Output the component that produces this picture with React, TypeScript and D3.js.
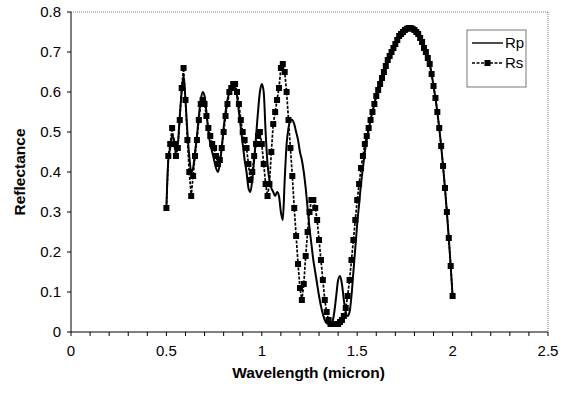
import React from 'react';
import * as d3 from 'd3';

// wavelength grid (micron), one sample every 0.01
const wavelengths: number[] = d3.range(0, 151).map(i => +(0.5 + i * 0.01).toFixed(2));

const rsValues: number[] = [
  0.31, 0.44, 0.47, 0.51, 0.47, 0.44, 0.46, 0.53, 0.61, 0.66,
  0.58, 0.48, 0.40, 0.34, 0.39, 0.44, 0.48, 0.53, 0.57, 0.58,
  0.57, 0.54, 0.51, 0.49, 0.47, 0.46, 0.44, 0.42, 0.43, 0.46,
  0.50, 0.54, 0.57, 0.60, 0.61, 0.62, 0.62, 0.60, 0.57, 0.53,
  0.50, 0.48, 0.46, 0.42, 0.38, 0.40, 0.44, 0.47, 0.49, 0.50,
  0.47, 0.42, 0.37, 0.34, 0.37, 0.45, 0.52, 0.55, 0.58, 0.61,
  0.66, 0.67, 0.65, 0.60, 0.53, 0.46, 0.39, 0.31, 0.24, 0.17,
  0.11, 0.08, 0.12, 0.19, 0.25, 0.30, 0.33, 0.33, 0.31, 0.28,
  0.23, 0.18, 0.13, 0.08, 0.05, 0.03, 0.02, 0.02, 0.02, 0.02,
  0.02, 0.025, 0.03, 0.04, 0.06, 0.09, 0.13, 0.18, 0.23, 0.28,
  0.33, 0.37, 0.41, 0.44, 0.47, 0.49, 0.51, 0.53, 0.55, 0.57,
  0.59, 0.605, 0.62, 0.635, 0.65, 0.665, 0.68, 0.69, 0.70, 0.71,
  0.72, 0.73, 0.74, 0.745, 0.75, 0.755, 0.758, 0.76, 0.76, 0.758,
  0.755, 0.75, 0.745, 0.735, 0.725, 0.71, 0.70, 0.685, 0.67, 0.645,
  0.615, 0.585, 0.55, 0.51, 0.465, 0.415, 0.36, 0.30, 0.235, 0.165,
  0.09,
];

const rpValues: number[] = [
  0.31, 0.43, 0.46, 0.49, 0.48, 0.45, 0.47, 0.54, 0.60, 0.64,
  0.58, 0.50, 0.44, 0.40, 0.41, 0.45, 0.49, 0.54, 0.58, 0.60,
  0.59, 0.55, 0.50, 0.47, 0.45, 0.43, 0.41, 0.40, 0.42, 0.46,
  0.51, 0.55, 0.58, 0.60, 0.61, 0.62, 0.61, 0.59, 0.55, 0.51,
  0.47, 0.43, 0.40, 0.36, 0.35, 0.38, 0.43, 0.49, 0.55, 0.60,
  0.62, 0.60, 0.50, 0.42, 0.38, 0.36, 0.35, 0.34, 0.35, 0.34,
  0.30, 0.28, 0.38, 0.47, 0.51, 0.53, 0.53, 0.52, 0.50, 0.48,
  0.45, 0.43, 0.40, 0.36, 0.31, 0.26, 0.22, 0.18, 0.15, 0.12,
  0.09, 0.065, 0.045, 0.03, 0.022, 0.02, 0.02, 0.025, 0.05, 0.09,
  0.13, 0.14, 0.12, 0.08, 0.05, 0.04, 0.05, 0.09, 0.15, 0.21,
  0.27, 0.32, 0.37, 0.41, 0.45, 0.48, 0.505, 0.53, 0.55, 0.57,
  0.59, 0.605, 0.62, 0.635, 0.65, 0.665, 0.68, 0.69, 0.70, 0.71,
  0.72, 0.73, 0.74, 0.745, 0.75, 0.755, 0.758, 0.76, 0.76, 0.758,
  0.755, 0.75, 0.745, 0.735, 0.725, 0.71, 0.70, 0.685, 0.67, 0.645,
  0.615, 0.585, 0.55, 0.51, 0.465, 0.415, 0.36, 0.30, 0.235, 0.165,
  0.09,
];

const xTickLabels: number[] = [0, 0.5, 1, 1.5, 2, 2.5];
const yTickLabels: number[] = [0, 0.1, 0.2, 0.3, 0.4, 0.5, 0.6, 0.7, 0.8];

const width = 568;
const height = 395;
const margin = { top: 12, right: 20, bottom: 63, left: 71 };
const font = 'Arial, "Liberation Sans", Helvetica, sans-serif';
const mk = 6; // marker size

const App: React.FC = () => {
  const innerW = width - margin.left - margin.right;
  const innerH = height - margin.top - margin.bottom;

  const x = d3.scaleLinear().domain([0, 2.5]).range([0, innerW]);
  const y = d3.scaleLinear().domain([0, 0.8]).range([innerH, 0]);

  const rsLine = d3.line<number>()
    .x((_, i) => x(wavelengths[i]))
    .y(d => y(d));
  const rpLine = d3.line<number>()
    .x((_, i) => x(wavelengths[i]))
    .y(d => y(d))
    .curve(d3.curveMonotoneX);

  const minorX = d3.range(0, 26).map(i => i * 0.1);
  const fmt = (v: number) => (v === 0 ? '0' : String(v));

  return (
    <svg
      width={width}
      height={height}
      style={{ position: 'absolute', left: 0, top: 0, background: '#fff' }}
      fontFamily={font}
    >
      <g transform={`translate(${margin.left},${margin.top})`}>
        {/* dotted frame on top and right */}
        <line x1={0} x2={innerW} y1={0} y2={0} stroke="#777" strokeDasharray="1,1" />
        <line x1={innerW} x2={innerW} y1={0} y2={innerH} stroke="#777" strokeDasharray="1,1" />

        {/* Rp */}
        <path d={rpLine(rpValues) || ''} fill="none" stroke="#000" strokeWidth={2} />

        {/* Rs */}
        <path d={rsLine(rsValues) || ''} fill="none" stroke="#000" strokeWidth={1.7} strokeDasharray="3,1.5" />
        {rsValues.map((v, i) => (
          <rect
            key={`rs-${i}`}
            x={x(wavelengths[i]) - mk / 2}
            y={y(v) - mk / 2}
            width={mk}
            height={mk}
            fill="#000"
          />
        ))}

        {/* x axis */}
        <g transform={`translate(0,${innerH})`}>
          <line x1={0} x2={innerW} stroke="#000" />
          {minorX.map(t => (
            <line key={`xt-${t}`} x1={x(t)} x2={x(t)} y1={0} y2={4} stroke="#000" />
          ))}
          {xTickLabels.map(t => (
            <text key={`xl-${t}`} x={x(t)} y={24} textAnchor="middle" fontSize={15} fill="#000">
              {fmt(t)}
            </text>
          ))}
          <text x={innerW / 2 - 1} y={46} textAnchor="middle" fontSize={15.5} fontWeight="bold" fill="#000">
            Wavelength (micron)
          </text>
        </g>

        {/* y axis */}
        <g>
          <line x1={0} x2={0} y1={0} y2={innerH} stroke="#000" />
          {yTickLabels.map(t => (
            <g key={`yt-${t}`} transform={`translate(0,${y(t)})`}>
              <line x1={-4} x2={0} stroke="#000" />
              <text x={-10} dy="0.35em" textAnchor="end" fontSize={15} fill="#000">
                {fmt(t)}
              </text>
            </g>
          ))}
          <text
            transform={`translate(${-51},${innerH / 2}) rotate(-90)`}
            textAnchor="middle"
            dy="0.35em"
            fontSize={15.5}
            fontWeight="bold"
            fill="#000"
          >
            Reflectance
          </text>
        </g>
      </g>

      {/* legend */}
      <g transform="translate(467,30)">
        <rect x={0} y={0} width={59} height={57} fill="#fff" stroke="#555" strokeWidth={0.8} />
        <line x1={5} x2={36} y1={13} y2={13} stroke="#000" strokeWidth={1.4} />
        <text x={38} y={13} dy="0.35em" fontSize={15} fill="#000">Rp</text>
        <line x1={5} x2={36} y1={33} y2={33} stroke="#000" strokeWidth={1.4} strokeDasharray="3,1.5" />
        <rect x={20.5 - mk / 2} y={33 - mk / 2} width={mk} height={mk} fill="#000" />
        <text x={38} y={33} dy="0.35em" fontSize={15} fill="#000">Rs</text>
      </g>
    </svg>
  );
};

export default App;
